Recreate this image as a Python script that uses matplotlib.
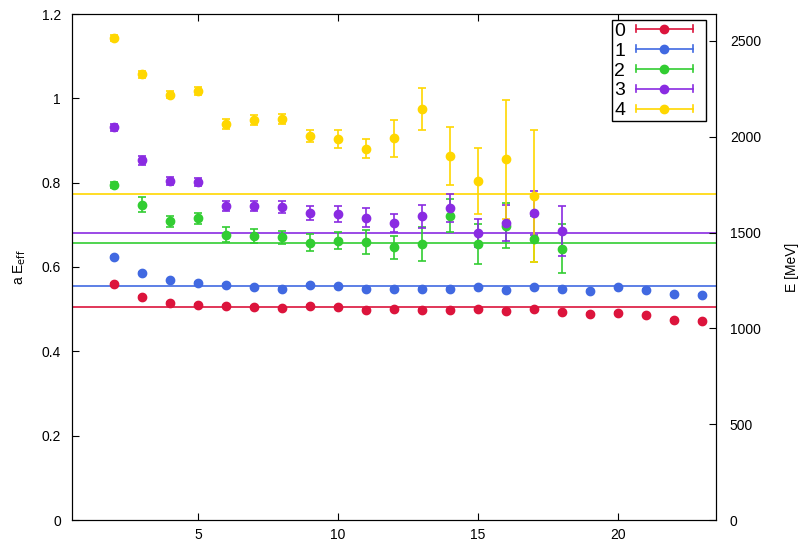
"""Effective energies of the five lowest states against time slice."""

import numpy as np
import matplotlib.pyplot as plt
from matplotlib.lines import Line2D
from matplotlib.legend_handler import HandlerBase

plt.rcParams['font.family'] = ['Liberation Sans', 'DejaVu Sans']

# lattice spacing conversion used for the right axis (MeV)
A_INV = 2200.0

t0 = list(range(2, 24))
e0 = [0.559, 0.530, 0.515, 0.511, 0.507, 0.506, 0.503, 0.507, 0.506, 0.499, 0.501,
      0.498, 0.497, 0.500, 0.495, 0.500, 0.494, 0.489, 0.492, 0.485, 0.475, 0.473]
d0 = [0.002] * 22
fit0 = 0.506

t1 = list(range(2, 24))
e1 = [0.623, 0.586, 0.568, 0.562, 0.557, 0.553, 0.549, 0.557, 0.554, 0.548, 0.549,
      0.549, 0.549, 0.553, 0.546, 0.553, 0.549, 0.543, 0.553, 0.546, 0.537, 0.533]
d1 = [0.002] * 22
fit1 = 0.555

t2 = list(range(2, 19))
e2 = [0.795, 0.748, 0.708, 0.716, 0.677, 0.674, 0.670, 0.658, 0.662, 0.660, 0.647,
      0.654, 0.722, 0.655, 0.698, 0.666, 0.643]
d2 = [0.007, 0.017, 0.013, 0.013, 0.017, 0.017, 0.016, 0.020, 0.020, 0.028, 0.027,
      0.040, 0.040, 0.047, 0.054, 0.054, 0.058]
fit2 = 0.658

t3 = list(range(2, 19))
e3 = [0.931, 0.853, 0.804, 0.801, 0.745, 0.745, 0.743, 0.728, 0.725, 0.717, 0.704,
      0.720, 0.739, 0.681, 0.705, 0.728, 0.685]
d3 = [0.008, 0.010, 0.010, 0.010, 0.012, 0.012, 0.014, 0.017, 0.019, 0.022, 0.022,
      0.028, 0.033, 0.033, 0.043, 0.052, 0.060]
fit3 = 0.680

t4 = list(range(2, 18))
e4 = [1.143, 1.057, 1.009, 1.017, 0.939, 0.949, 0.951, 0.911, 0.903, 0.881, 0.905,
      0.975, 0.863, 0.804, 0.856, 0.769]
d4 = [0.007, 0.008, 0.009, 0.009, 0.012, 0.012, 0.013, 0.015, 0.021, 0.023, 0.043,
      0.049, 0.069, 0.079, 0.141, 0.157]
fit4 = 0.772

labels = ['0', '1', '2', '3', '4']
colors = ['#dc143c', '#4169e1', '#32cd32', '#8a2be2', '#ffd700']


class HandlerErrorKey(HandlerBase):
    """gnuplot-like key sample: horizontal bar with caps and a dot."""

    def create_artists(self, legend, orig_handle, xdescent, ydescent,
                       width, height, fontsize, trans):
        c = orig_handle.get_color()
        y = height / 2 - ydescent
        x0 = -xdescent
        x1 = x0 + 0.84 * width   # leave a gap before the key box edge
        cap = 0.25 * height
        arts = [Line2D([x0, x1], [y, y], color=c, lw=1.2),
                Line2D([x0, x0], [y - cap, y + cap], color=c, lw=1.2),
                Line2D([x1, x1], [y - cap, y + cap], color=c, lw=1.2),
                Line2D([(x0 + x1) / 2], [y], color=c, marker='o', ms=6, ls='none')]
        for a in arts:
            a.set_transform(trans)
        return arts


fig = plt.figure(figsize=(8.02, 5.42), dpi=100)
ax = fig.add_axes([72 / 802, 22 / 542, 644 / 802, 506 / 542])

series = [(t0, e0, d0, fit0), (t1, e1, d1, fit1), (t2, e2, d2, fit2),
          (t3, e3, d3, fit3), (t4, e4, d4, fit4)]
for (t, e, d, fit), c in zip(series, colors):
    ax.axhline(fit, color=c, lw=1.2, zorder=1)
    ax.errorbar(t, e, yerr=d, fmt='o', color=c, ms=6, capsize=3,
                elinewidth=1.2, capthick=1.2, zorder=3)

ax.set_xlim(0.5, 23.5)
ax.set_ylim(0, 1.2)
ax.set_xticks([5, 10, 15, 20])
ax.set_yticks([0, 0.2, 0.4, 0.6, 0.8, 1.0, 1.2])
ax.set_yticklabels(['0', '0.2', '0.4', '0.6', '0.8', '1', '1.2'])
ax.tick_params(axis='x', direction='in', length=5, top=True, pad=6, labelsize=10)
ax.tick_params(axis='y', direction='in', length=5, right=False, pad=8, labelsize=10)
ax.set_ylabel(r'a E$_{\mathrm{eff}}$', fontsize=10, labelpad=10)

ax2 = ax.twinx()
ax2.set_ylim(0, 1.2 * A_INV)
ax2.set_yticks([0, 500, 1000, 1500, 2000, 2500])
ax2.tick_params(axis='y', direction='in', length=5, pad=10, labelsize=10)
ax2.set_ylabel('E [MeV]', fontsize=10, labelpad=17)

handles = [Line2D([], [], color=c, label=l) for c, l in zip(colors, labels)]
leg = ax.legend(handles=handles, handler_map={Line2D: HandlerErrorKey()},
                loc='upper right', bbox_to_anchor=(0.984, 0.988), markerfirst=False,
                fontsize=14, handlelength=3.5, handletextpad=0.55, labelspacing=0.12,
                borderpad=0.1, borderaxespad=0, fancybox=False, framealpha=1,
                edgecolor='black')
leg.get_frame().set_linewidth(1.0)

fig.savefig('out.png', dpi=100)
